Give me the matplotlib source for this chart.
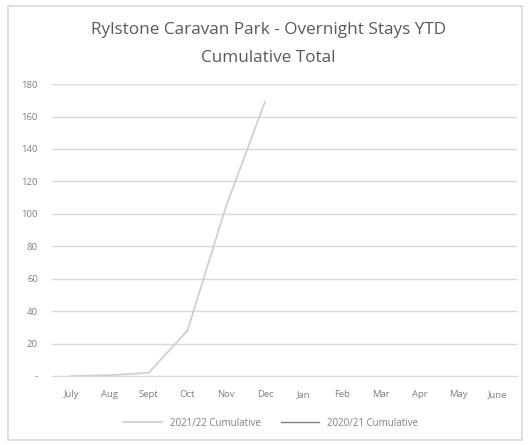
import numpy as np
import matplotlib
matplotlib.use("Agg")
import matplotlib.pyplot as plt
from matplotlib.patches import Rectangle

months = ["July", "Aug", "Sept", "Oct", "Nov", "Dec", "Jan", "Feb", "Mar", "Apr", "May", "June"]
cum_2122 = [0, 0.5, 2, 28, 105, 169, np.nan, np.nan, np.nan, np.nan, np.nan, np.nan]
cum_2021 = [np.nan] * 12
yticks = [0, 20, 40, 60, 80, 100, 120, 140, 160, 180]
ytick_labels = ["-"] + [str(v) for v in yticks[1:]]

plt.rcParams['font.family'] = ['Open Sans', 'DejaVu Sans']

fig = plt.figure(figsize=(5.29, 4.45), dpi=100)
fig.patches.append(Rectangle((0.015, 0.012), 0.972, 0.975, transform=fig.transFigure,
                             fill=False, edgecolor="#d9d9d9", linewidth=1.2))

ax = fig.add_axes([0.098, 0.155, 0.879, 0.656])
x = np.arange(len(months))
ax.plot(x, cum_2122, color="#d0d0d0", linewidth=1.3, label="2021/22 Cumulative")
ax.plot(x, cum_2021, color="#808080", linewidth=1.0, label="2020/21 Cumulative")

ax.set_xlim(-0.5, len(months) - 0.5)
ax.set_ylim(0, 180)
ax.set_yticks(yticks)
ax.set_yticklabels(ytick_labels)
ax.set_xticks(x)
ax.set_xticklabels(months)
ax.yaxis.grid(True, color="#d9d9d9", linewidth=1.0)
ax.set_axisbelow(True)
for s in ax.spines.values():
    s.set_visible(False)
ax.spines['bottom'].set_visible(True)
ax.spines['bottom'].set_color("#d9d9d9")
ax.tick_params(axis='both', length=0, labelsize=6.8, colors="#7f7f7f")
ax.tick_params(axis='y', pad=10)
ax.tick_params(axis='x', pad=10)

fig.text(0.507, 0.933, "Rylstone Caravan Park - Overnight Stays YTD", ha="center", va="center",
         fontsize=12.3, color="#595959")
fig.text(0.507, 0.870, "Cumulative Total", ha="center", va="center",
         fontsize=12.3, color="#595959")

fig.legend(loc="center", bbox_to_anchor=(0.512, 0.049), ncol=2, frameon=False,
           fontsize=7, labelcolor="#7f7f7f", handlelength=4.0, columnspacing=2.0)

fig.savefig("out.png", dpi=100)
